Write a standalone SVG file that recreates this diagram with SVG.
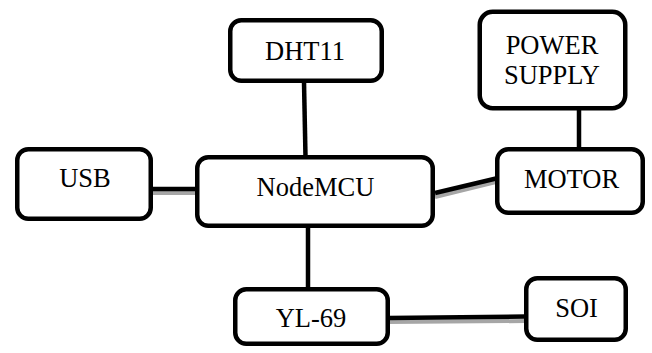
<svg xmlns="http://www.w3.org/2000/svg" width="652" height="353" viewBox="0 0 652 353">
<style>
.box{fill:#fff;stroke:#000;stroke-width:4.5}
.t{font-family:'Liberation Serif','Times New Roman','DejaVu Serif',serif;font-size:26.5px;fill:#000;text-anchor:middle}
.ln{stroke:#000;stroke-width:4.5;fill:none}
.sh{stroke:#a6a6a6;stroke-width:4;fill:none}
</style>
<rect width="652" height="353" fill="#fff"/>
<g id="connectors">
<line class="ln" x1="304" y1="82" x2="305.5" y2="157"/>
<line class="ln" x1="579" y1="108" x2="579" y2="149"/>
<line class="sh" x1="152" y1="193" x2="197" y2="193"/>
<line class="ln" x1="152" y1="189" x2="197" y2="189"/>
<line class="ln" x1="308" y1="226" x2="308" y2="289"/>
<line class="sh" x1="435" y1="197" x2="496" y2="182"/>
<line class="ln" x1="435" y1="193" x2="496" y2="178.5"/>
<line class="sh" x1="388" y1="322" x2="526" y2="321"/>
<line class="ln" x1="388" y1="318" x2="526" y2="316.5"/>
</g>
<g id="dht11">
<rect class="box" x="230.25" y="20.25" width="151.5" height="60.5" rx="11"/>
<text class="t" x="305" y="59.5">DHT11</text>
</g>
<g id="power-supply">
<rect class="box" x="479.75" y="11.75" width="145.5" height="96.5" rx="13"/>
<text class="t" x="552" y="53.5">POWER</text>
<text class="t" x="552" y="84">SUPPLY</text>
</g>
<g id="usb">
<rect class="box" x="17.25" y="149.25" width="133.5" height="69.5" rx="11"/>
<text class="t" x="85" y="187">USB</text>
</g>
<g id="nodemcu">
<rect class="box" x="197.25" y="157.25" width="235.5" height="68.5" rx="11"/>
<text class="t" x="315.5" y="196">NodeMCU</text>
</g>
<g id="motor">
<rect class="box" x="497.25" y="149.25" width="145.5" height="63.5" rx="11"/>
<text class="t" x="571.5" y="187.5">MOTOR</text>
</g>
<g id="yl69">
<rect class="box" x="235.25" y="289.25" width="152.5" height="54.5" rx="11"/>
<text class="t" x="311" y="326.5">YL-69</text>
</g>
<g id="soi">
<rect class="box" x="526.25" y="278.25" width="99.5" height="61.5" rx="11"/>
<text class="t" x="576.5" y="316.5">SOI</text>
</g>
</svg>
